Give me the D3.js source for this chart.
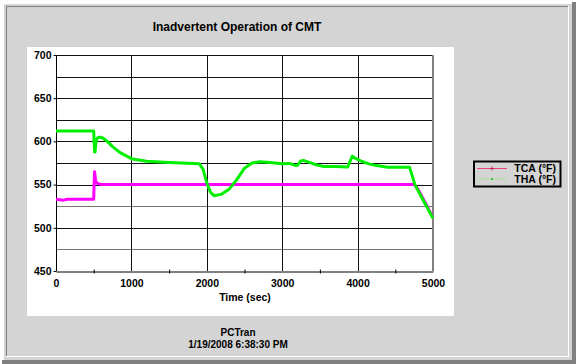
<!DOCTYPE html>
<html><head><meta charset="utf-8">
<script src="https://cdn.jsdelivr.net/npm/d3@7"></script>
<style>html,body{margin:0;padding:0;background:#fff;}svg{display:block;}</style>
</head><body>
<svg id="c" width="576" height="364"></svg>
<script>
const title = "Inadvertent Operation of CMT";
const xLabel = "Time (sec)";
const footer1 = "PCTran";
const footer2 = "1/19/2008 6:38:30 PM";
const seriesNames = ["TCA (\u00B0F)", "THA (\u00B0F)"];
const xTicks = [0, 1000, 2000, 3000, 4000, 5000];
const yTicks = [450, 500, 550, 600, 650, 700];

const tcaTime = [0, 50, 100, 150, 500, 505, 512, 518, 525, 540, 560, 600, 650, 1000, 2000, 3000, 4000, 4750, 4800, 5000];
const tcaVal  = [533, 532.5, 532, 533, 533, 550, 565, 560, 555, 552, 551, 550, 550, 550, 550, 550, 550, 550, 545, 512];

const thaTime = [0, 500, 505, 510, 515, 520, 525, 535, 550, 580, 620, 680, 750, 850, 1000, 1200, 1500, 1900, 1950, 2000, 2050, 2100, 2200, 2300, 2400, 2500, 2600, 2700, 2800, 2900, 3000, 3100, 3180, 3200, 3240, 3280, 3350, 3450, 3550, 3700, 3870, 3900, 3930, 3960, 4050, 4150, 4250, 4400, 4600, 4690, 4760, 4850, 5000];
const thaVal  = [612, 612, 600, 592, 588, 592, 596, 601, 604, 605, 604, 600, 594, 587, 580, 577, 575.5, 574, 568, 552, 541, 537, 539, 545, 556, 569, 575, 576.5, 576, 575, 574, 574.5, 572, 572, 577, 578, 576, 573, 571, 571, 570.5, 577, 583, 581, 577, 574, 572, 570, 570, 570, 550, 535, 511];
const thaMarkerTime = [505, 510, 515, 520, 525];
const thaMarkerVal  = [600, 592, 588, 592, 596];

const svg = d3.select("#c");
const font = "'Liberation Sans', Arial, sans-serif";

// frame
svg.append("rect").attr("x",572).attr("y",2).attr("width",4).attr("height",362).attr("fill","#808080");
svg.append("rect").attr("x",2).attr("y",360).attr("width",574).attr("height",4).attr("fill","#808080");
svg.append("rect").attr("x",4).attr("y",4).attr("width",568).attr("height",356).attr("fill","#d4d4d4");
svg.append("rect").attr("x",6.5).attr("y",6.5).attr("width",562).attr("height",350).attr("fill","#d4d4d4").attr("stroke","#808080");
svg.append("line").attr("x1",568.5).attr("x2",568.5).attr("y1",6).attr("y2",357).attr("stroke","#fff");
svg.append("line").attr("x1",6).attr("x2",569).attr("y1",356.5).attr("y2",356.5).attr("stroke","#fff");

// white plot background
svg.append("rect").attr("x",27).attr("y",47).attr("width",427).attr("height",269).attr("fill","#fff");

const x = d3.scaleLinear().domain([0,5000]).range([56,433]);
const y = d3.scaleLinear().domain([450,700]).range([271,55]);

// grid
const g = svg.append("g");
d3.range(475, 701, 25).forEach(v => {
  g.append("line").attr("x1",x(0)).attr("x2",x(5000)).attr("y1",Math.round(y(v))+0.5).attr("y2",Math.round(y(v))+0.5)
    .attr("stroke", (v===475||v===525) ? "#777" : "#111").attr("stroke-width",1);
});
[1000,2000,3000,4000].forEach(t => {
  g.append("line").attr("x1",Math.round(x(t))+0.5).attr("x2",Math.round(x(t))+0.5).attr("y1",y(700)).attr("y2",y(450))
    .attr("stroke","#111");
});
g.append("line").attr("x1",Math.round(x(5000))).attr("x2",Math.round(x(5000))).attr("y1",y(700)).attr("y2",y(450))
  .attr("stroke","#808080").attr("stroke-width",2);

// axes
const xAxis = d3.axisBottom(x).tickValues(xTicks).tickSize(0).tickPadding(8).tickFormat(d3.format("d"));
const xg = svg.append("g").attr("transform",`translate(0,${Math.round(y(450))+0.5})`).call(xAxis);
xg.select(".domain").attr("stroke","#000");
xg.selectAll("text").attr("font-family",font).attr("font-weight","bold").attr("font-size","10.5px").attr("fill","#000");
const xMinor = svg.append("g").attr("transform",`translate(0,${Math.round(y(450))+0.5})`)
  .call(d3.axisBottom(x).tickValues(d3.range(500,5000,1000)).tickSize(2).tickFormat(""));
xMinor.select(".domain").remove();
xMinor.selectAll("line").attr("y1",-2).attr("stroke","#000");

const yAxis = d3.axisLeft(y).tickValues(yTicks).tickSize(3).tickPadding(2).tickFormat(d3.format("d"));
const yg = svg.append("g").attr("transform",`translate(${Math.round(x(0))+0.5},0)`).call(yAxis);
yg.select(".domain").attr("stroke","#000").attr("d",`M0,${y(700)}V${y(450)}`);
yg.selectAll("text").attr("font-family",font).attr("font-weight","bold").attr("font-size","10.5px").attr("fill","#000");

// lines
const line = d3.line().x(d=>x(d[0])).y(d=>y(d[1]));
const tca = tcaTime.map((t,i)=>[t,tcaVal[i]]);
const tha = thaTime.map((t,i)=>[t,thaVal[i]]);
svg.append("path").datum(tca).attr("d",line).attr("fill","none").attr("stroke","#ff00ff").attr("stroke-width",3).attr("stroke-linejoin","round");
svg.append("path").datum(tha).attr("d",line).attr("fill","none").attr("stroke","#00ee00").attr("stroke-width",3).attr("stroke-linejoin","round");
svg.append("g").selectAll("rect").data(thaMarkerTime.map((t,i)=>[t,thaMarkerVal[i]])).join("rect")
  .attr("x",d=>x(d[0])-1.5).attr("y",d=>y(d[1])-1.5).attr("width",3).attr("height",3).attr("fill","#00ee00");

// titles
svg.append("text").attr("x",237).attr("y",31).attr("text-anchor","middle").attr("font-family",font)
  .attr("font-weight","bold").attr("font-size","12px").text(title);
svg.append("text").attr("x",245).attr("y",301).attr("text-anchor","middle").attr("font-family",font)
  .attr("font-weight","bold").attr("font-size","10.5px").text(xLabel);
svg.append("text").attr("x",238).attr("y",336).attr("text-anchor","middle").attr("font-family",font)
  .attr("font-weight","bold").attr("font-size","10px").text(footer1);
svg.append("text").attr("x",238).attr("y",348).attr("text-anchor","middle").attr("font-family",font)
  .attr("font-weight","bold").attr("font-size","10px").text(footer2);

// legend
const lg = svg.append("g");
lg.append("rect").attr("x",474).attr("y",161.5).attr("width",86.5).attr("height",25).attr("fill","none").attr("stroke","#000").attr("stroke-width",2);
const legColors = ["#e8407a","#a8e098"];
const markColors = ["#d02050","#40c040"];
seriesNames.forEach((n,i)=>{
  const yy = 168.5 + i*10.5;
  lg.append("line").attr("x1",477).attr("x2",507).attr("y1",yy).attr("y2",yy).attr("stroke",legColors[i]).attr("stroke-width",1);
  if(i===0){
    lg.append("path").attr("d",`M490,${yy}h4M492,${yy-2}v4`).attr("stroke",markColors[i]).attr("stroke-width",1);
  } else {
    lg.append("rect").attr("x",491).attr("y",yy-1).attr("width",2).attr("height",2).attr("fill",markColors[i]);
  }
  lg.append("text").attr("x",556).attr("y",yy+3.8).attr("text-anchor","end").attr("font-family",font)
    .attr("font-weight","bold").attr("font-size","10.5px").text(n);
});
</script>
</body></html>
